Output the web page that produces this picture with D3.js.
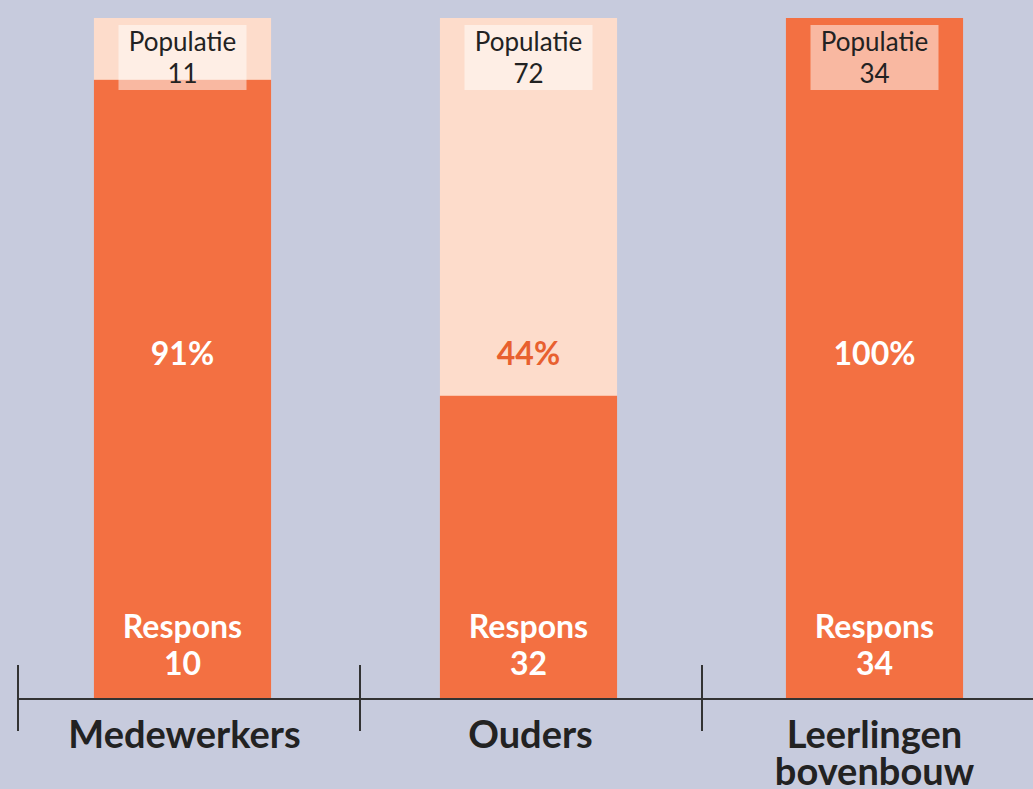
<html>
<head>
  <script src="https://d3js.org/d3.v7.min.js"></script>
  <style>
    body { margin: 0; background: #c7cbdd; font-family: 'Lato', 'Open Sans', sans-serif; }
  </style>
</head>
<body>
  <svg id="chart" width="1033" height="789"></svg>
  <script>
    // data
    const groups = ["Medewerkers", "Ouders", "Leerlingen bovenbouw"];
    const groupLines = [["Medewerkers"], ["Ouders"], ["Leerlingen", "bovenbouw"]];
    const population = [11, 72, 34];
    const respons = [10, 32, 34];
    const pctLabels = ["91%", "44%", "100%"];

    const svg = d3.select("#chart");
    const dark = "#f37042", light = "#fddccb";
    const chartTop = 18, chartBottom = 698;

    // scales
    const x = d3.scaleBand().domain(groups).range([9.5, 1047.5]).paddingInner(0.488).paddingOuter(0.244);
    const xAxisScale = d3.scaleBand().domain(groups).range([18, 1044]).padding(0);
    const y = d3.scaleLinear().domain([0, 100]).range([chartBottom, chartTop]);

    const data = groups.map((g, i) => ({
      g, lines: groupLines[i], pop: population[i], resp: respons[i],
      share: respons[i] / population[i] * 100, pct: pctLabels[i]
    }));

    const bars = svg.selectAll("g.bar").data(data).join("g").attr("class", "bar")
      .attr("transform", d => `translate(${x(d.g)},0)`);

    // population (background) bar
    bars.append("rect")
      .attr("y", y(100)).attr("width", x.bandwidth())
      .attr("height", y(0) - y(100)).attr("fill", light);
    // respons bar
    bars.append("rect")
      .attr("y", d => y(d.share)).attr("width", x.bandwidth())
      .attr("height", d => y(0) - y(d.share)).attr("fill", dark);

    const bw = x.bandwidth();
    // population label box
    bars.append("rect")
      .attr("x", bw / 2 - 64).attr("y", 25).attr("width", 128).attr("height", 65)
      .attr("fill", "white").attr("opacity", 0.5);
    bars.append("text").attr("x", bw / 2).attr("y", 51)
      .attr("text-anchor", "middle").attr("font-size", "26px").attr("fill", "#222")
      .text("Populatie");
    bars.append("text").attr("x", bw / 2).attr("y", 83)
      .attr("text-anchor", "middle").attr("font-size", "26px").attr("fill", "#222")
      .text(d => d.pop);

    // percentage
    bars.append("text").attr("x", bw / 2).attr("y", 365)
      .attr("text-anchor", "middle").attr("font-size", "32px").attr("font-weight", "bold")
      .attr("fill", d => y(d.share) > 365 ? "#e8602f" : "white")
      .text(d => d.pct);

    // respons
    bars.append("text").attr("x", bw / 2).attr("y", 638)
      .attr("text-anchor", "middle").attr("font-size", "32px").attr("font-weight", "bold")
      .attr("fill", "white").text("Respons");
    bars.append("text").attr("x", bw / 2).attr("y", 675)
      .attr("text-anchor", "middle").attr("font-size", "32px").attr("font-weight", "bold")
      .attr("fill", "white").text(d => d.resp);

    // axis
    const axis = svg.append("g");
    axis.append("line").attr("x1", 18).attr("x2", 1033).attr("y1", 699).attr("y2", 699)
      .attr("stroke", "#333").attr("stroke-width", 2);
    axis.selectAll("line.tick").data(groups).join("line").attr("class", "tick")
      .attr("x1", d => xAxisScale(d)).attr("x2", d => xAxisScale(d))
      .attr("y1", 665).attr("y2", 731).attr("stroke", "#333").attr("stroke-width", 2);

    // category labels
    const labels = axis.selectAll("text.cat").data(data).join("text").attr("class", "cat")
      .attr("text-anchor", "middle").attr("font-size", "38px").attr("font-weight", "bold")
      .attr("fill", "#222");
    labels.each(function (d) {
      const t = d3.select(this);
      d.lines.forEach((l, i) => {
        t.append("tspan").attr("x", x(d.g) + bw / 2 + (d.lines.length > 1 ? 0 : 2)).attr("y", 748 + i * 37).text(l);
      });
    });
  </script>
</body>
</html>
